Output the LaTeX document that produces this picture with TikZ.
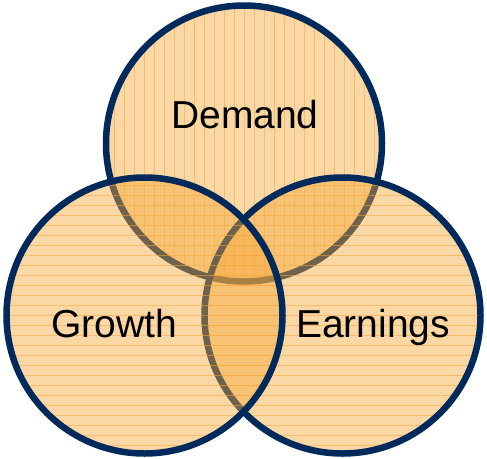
\documentclass[tikz,border=0pt]{standalone}
\usepackage{fontspec}
\setmainfont{Liberation Sans}
\usepackage{tikz}
\usetikzlibrary{positioning}

\definecolor{vennnavy}{RGB}{0,42,92}
\definecolor{vennorange}{RGB}{245,168,58}

\tikzset{
 venn/.style={circle,inner sep=0pt,minimum size=276pt,line width=6.5pt,
   draw=vennnavy,fill=vennorange,fill opacity=0.45,text opacity=1},
 vlines/.style={path picture={
   \foreach \i in {-14,...,14}
     \draw[vennorange,opacity=0.55,line width=1pt]
       ([xshift=\i*10pt]path picture bounding box.north)
       -- ([xshift=\i*10pt]path picture bounding box.south);}},
 hlines/.style={path picture={
   \foreach \i in {-14,...,14}
     \draw[vennorange,opacity=0.55,line width=1pt]
       ([yshift=\i*10pt]path picture bounding box.west)
       -- ([yshift=\i*10pt]path picture bounding box.east);}},
 label/.style={anchor=base,inner sep=0pt,font=\fontsize{39}{39}\selectfont}
}

\begin{document}
\begin{tikzpicture}[x=1pt,y=-1pt]
 \useasboundingbox (0,0) rectangle (487,458);
 % circles, back to front
 \node[venn,vlines] (demand) at (244,143.5) {};
 \node[venn,hlines] (earnings) at (342.5,315.5) {};
 \node[venn,hlines] (growth) at (144.5,315.5) {};
 % labels
 \node[label] (demandtxt) at (245,128) {Demand};
 \node[label] (growthtxt) at (114.5,337) {Growth};
 \node[label] (earningstxt) at (373,337) {Earnings};
\end{tikzpicture}
\end{document}
